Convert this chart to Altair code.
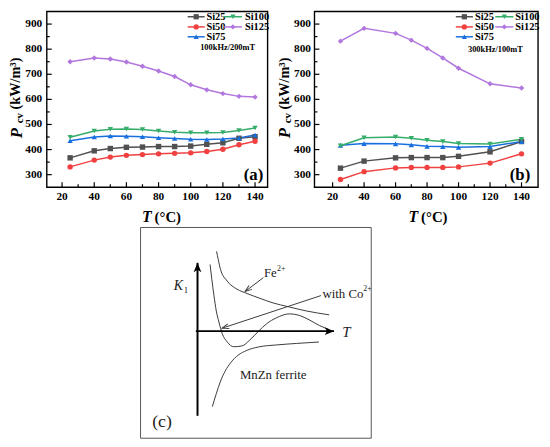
import math
import altair as alt
import numpy as np
import pandas as pd

FONT = "Liberation Serif"
M = 8  # page margin: page coordinate -> chart coordinate

# ---------------- data: panels (a) and (b) ----------------
series = ["Si25", "Si50", "Si75", "Si100", "Si125"]
colors = ["#515151", "#F14040", "#1A6FDF", "#37AD6B", "#B177DE"]
shapes = ["square", "circle", "triangle-up", "triangle-down", "diamond"]

temp_a = [25, 40, 50, 60, 70, 80, 90, 100, 110, 120, 130, 140]
a_si25 = [367, 395, 404, 409, 410, 412, 412, 414, 421, 427, 445, 451]
a_si50 = [331, 358, 370, 377, 380, 383, 385, 387, 392, 401, 419, 433]
a_si75 = [435, 450, 454, 453, 451, 447, 444, 441, 440, 442, 446, 458]
a_si100 = [449, 474, 481, 482, 480, 474, 469, 467, 467, 468, 476, 486]
a_si125 = [750, 765, 761, 749, 732, 713, 691, 658, 638, 623, 612, 609]

temp_b = [25, 40, 60, 70, 80, 90, 100, 120, 140]
b_si25 = [326, 354, 367, 368, 368, 368, 373, 391, 432]
b_si50 = [281, 312, 327, 329, 329, 329, 331, 346, 383]
b_si75 = [417, 424, 423, 419, 413, 412, 409, 412, 432]
b_si100 = [415, 447, 450, 445, 437, 432, 424, 422, 441]
b_si125 = [832, 883, 863, 836, 803, 765, 724, 662, 645]

x_major = [20, 40, 60, 80, 100, 120, 140]
x_minor = [30, 50, 70, 90, 110, 130]
y_major = [300, 400, 500, 600, 700, 800, 900]
y_minor = [350, 450, 550, 650, 750, 850]

# ---------------- data: schematic (c) ----------------
fe_x = [1.93, 2.1, 2.33, 3.0, 4.0, 5.0, 6.33, 7.67, 9.17, 11.0, 13.33]
fe_y = [8.08, 7.25, 6.25, 5.08, 4.25, 3.82, 3.32, 2.85, 2.48, 2.05, 1.65]
co_x = [1.27, 1.45, 1.67, 1.9, 2.17, 2.5, 3.0, 3.67, 4.5, 5.3, 6.17, 7.0, 8.0, 9.33, 10.3, 11.3, 12.33, 13.33]
co_y = [6.75, 5.25, 3.58, 2.05, 0.92, -0.25, -1.08, -1.58, -1.5, -0.9, -0.02, 0.75, 1.35, 1.75, 1.6, 1.15, 0.58, 0.15]
mn_x = [1.5, 1.9, 2.3, 2.8, 3.4, 4.1, 5.0, 6.2, 8.0, 10.0, 12.3]
mn_y = [-7.65, -6.35, -5.15, -4.05, -3.15, -2.45, -1.95, -1.6, -1.4, -1.25, -1.1]

arrow_from_x = [6.67, 12.5]
arrow_from_y = [5.42, 3.6]
arrow_to_x = [4.83, 2.5]
arrow_to_y = [4.02, 0.3]

axis_from_x = [0.0, -0.17]
axis_from_y = [-8.58, 0.0]
axis_to_x = [0.0, 13.83]
axis_to_y = [6.92, 0.0]

# ---------------- helpers ----------------
def S(dom, rng):
    return alt.Scale(domain=dom, range=rng, nice=False, zero=False)

one = pd.DataFrame({"k": [0]})


def label(text, x, y, size, weight="normal", style="normal", align="center",
          angle=0, color="black", baseline="middle"):
    return alt.Chart(one).mark_text(
        text=text, font=FONT, fontSize=size, fontWeight=weight, fontStyle=style,
        align=align, baseline=baseline, angle=angle, color=color
    ).encode(x=alt.value(x - M), y=alt.value(y - M))


color_enc = alt.Color("series:N", scale=alt.Scale(domain=series, range=colors), legend=None)
shape_enc = alt.Shape("series:N", scale=alt.Scale(domain=series, range=shapes), legend=None)

Y_AB = S([250, 950], [178.7, 0.7])


def panel(temps, vals, xdom, xrng, leg_cols, leg_lab, cond, cond_xy, tag, tag_x,
          ylab_right, ytitle_x, xtitle_x):
    xs = S(xdom, xrng)
    layers = []
    rows = []
    for s, v in zip(series, vals):
        for t, p in zip(temps, v):
            rows.append({"series": s, "T": t, "P": p})
    df = pd.DataFrame(rows)
    base = alt.Chart(df)
    enc = dict(x=alt.X("T:Q", scale=xs, axis=None), y=alt.Y("P:Q", scale=Y_AB, axis=None))
    layers.append(base.mark_line(strokeWidth=1.5).encode(color=color_enc, detail="series:N", **enc))
    layers.append(base.mark_point(filled=True, size=30, opacity=1).encode(color=color_enc, shape=shape_enc, **enc))

    # frame
    box = pd.DataFrame({"x0": [xdom[0]], "x1": [xdom[1]], "y0": [250], "y1": [950]})
    layers.append(alt.Chart(box).mark_rect(fillOpacity=0, stroke="black", strokeWidth=1.4).encode(
        x=alt.X("x0:Q", scale=xs, axis=None), x2="x1:Q",
        y=alt.Y("y0:Q", scale=Y_AB, axis=None), y2="y1:Q"))

    x0, ybot = xrng[0], 178.7
    # inward ticks
    for vals_t, ln in ((x_major, 5), (x_minor, 3)):
        layers.append(alt.Chart(pd.DataFrame({"v": vals_t})).mark_rule(color="black", strokeWidth=1.2).encode(
            x=alt.X("v:Q", scale=xs, axis=None), y=alt.value(ybot), y2=alt.value(ybot - ln)))
    for vals_t, ln in ((y_major, 5), (y_minor, 3)):
        layers.append(alt.Chart(pd.DataFrame({"v": vals_t})).mark_rule(color="black", strokeWidth=1.2).encode(
            y=alt.Y("v:Q", scale=Y_AB, axis=None), x=alt.value(x0), x2=alt.value(x0 + ln)))
    # tick labels
    layers.append(alt.Chart(pd.DataFrame({"v": x_major, "lab": [str(v) for v in x_major]})).mark_text(
        font=FONT, fontSize=11.5, fontWeight="bold", baseline="middle").encode(
        x=alt.X("v:Q", scale=xs, axis=None), y=alt.value(196.7 - M), text="lab:N"))
    layers.append(alt.Chart(pd.DataFrame({"v": y_major, "lab": [str(v) for v in y_major]})).mark_text(
        font=FONT, fontSize=11.5, fontWeight="bold", baseline="middle", align="right").encode(
        y=alt.Y("v:Q", scale=Y_AB, axis=None), x=alt.value(ylab_right - M), text="lab:N"))

    # axis titles
    layers.append(label("P", ytitle_x + 2.5, 137, 17, "bold", "italic", "left", 270))
    layers.append(label("cv", ytitle_x + 5, 122, 11, "bold", "normal", "left", 270))
    layers.append(label("(kW/m³)", ytitle_x + 1.5, 108, 14.5, "bold", "normal", "left", 270))
    layers.append(label("T", xtitle_x - 1.5, 217.3, 16, "bold", "italic", "right"))
    layers.append(label("(°C)", xtitle_x + 1.5, 217.3, 15, "bold", "normal", "left"))

    # legend
    rows_y = [14, 24.3, 34.3]
    place = {"Si25": (0, 0), "Si50": (0, 1), "Si75": (0, 2), "Si100": (1, 0), "Si125": (1, 1)}
    for s, c, sh in zip(series, colors, shapes):
        ci, ri = place[s]
        lx0, lx1 = leg_cols[ci]
        yy = rows_y[ri] - M
        layers.append(alt.Chart(one).mark_rule(color=c, strokeWidth=1.5).encode(
            x=alt.value(lx0 - M), x2=alt.value(lx1 - M), y=alt.value(yy)))
        layers.append(alt.Chart(one).mark_point(shape=sh, filled=True, size=28, color=c, opacity=1).encode(
            x=alt.value((lx0 + lx1) / 2 - M), y=alt.value(yy)))
        layers.append(label(s, leg_lab[ci], rows_y[ri], 10.5, "bold", "normal", "left"))
    layers.append(label(cond, cond_xy[0], cond_xy[1], 8.5, "bold", "normal", "left"))
    layers.append(label(tag, tag_x, 174, 17, "bold", "normal", "center"))
    return layers


layers = []
layers += panel(temp_a, [a_si25, a_si50, a_si75, a_si100, a_si125],
                [10.5, 147.8], [47.3 - M, 271 - M],
                [(190, 207.3), (226.7, 245)], [209, 248],
                "100kHz/200mT", (202.7, 45), "(a)", 256.7,
                42.7, 15, 155)
layers += panel(temp_b, [b_si25, b_si50, b_si75, b_si100, b_si125],
                [8.5, 150.5], [318.5 - M, 545 - M],
                [(461.7, 479), (501.7, 520)], [481, 522],
                "300kHz/100mT", (474, 46.7), "(b)", 526.7,
                315, 286.7, 425)

# ---------------- panel (c) ----------------
XC = S([0, 10], [200 - M, 300 - M])
YC = S([0, 10], [332.5 - M, 232.5 - M])
cx = lambda f: alt.X(f, type="quantitative", scale=XC, axis=None)
cy = lambda f: alt.Y(f, type="quantitative", scale=YC, axis=None)

frame_c = pd.DataFrame({"x0": [-5.77], "x1": [17.6], "y0": [-10.85], "y1": [10.5]})
layers.append(alt.Chart(frame_c).mark_rect(fillOpacity=0, stroke="#555555", strokeWidth=1).encode(
    x=cx("x0"), x2="x1", y=cy("y0"), y2="y1"))

curves = []
for name, xs_, ys_ in (("fe", fe_x, fe_y), ("co", co_x, co_y), ("mn", mn_x, mn_y)):
    for i, (a, b) in enumerate(zip(xs_, ys_)):
        curves.append({"curve": name, "i": i, "x": a, "y": b})
layers.append(alt.Chart(pd.DataFrame(curves)).mark_line(
    color="#3a3a3a", strokeWidth=1, interpolate="monotone").encode(
    x=cx("x"), y=cy("y"), detail="curve:N", order="i:Q"))

ax_df = pd.DataFrame({"x": axis_from_x, "y": axis_from_y, "x2": axis_to_x, "y2": axis_to_y})
layers.append(alt.Chart(ax_df).mark_rule(color="black", strokeWidth=2).encode(
    x=cx("x"), y=cy("y"), x2="x2", y2="y2"))

ar_df = pd.DataFrame({"x": arrow_from_x, "y": arrow_from_y, "x2": arrow_to_x, "y2": arrow_to_y})
layers.append(alt.Chart(ar_df).mark_rule(color="#3a3a3a", strokeWidth=1).encode(
    x=cx("x"), y=cy("y"), x2="x2", y2="y2"))


def heads(fx, fy, tx, ty, size):
    r = math.sqrt(size) / 2 / 10.0
    rows = []
    for a, b, c, d in zip(fx, fy, tx, ty):
        dx, dy = c - a, d - b
        n = math.hypot(dx, dy)
        ang = math.degrees(math.atan2(dx, dy)) % 360
        rows.append({"x": c - r * dx / n, "y": d - r * dy / n, "angle": ang})
    return pd.DataFrame(rows)


layers.append(alt.Chart(heads(axis_from_x, axis_from_y, axis_to_x, axis_to_y, 110)).mark_point(
    shape="M0,-1L0.75,0.8L0,0.35L-0.75,0.8Z", filled=True, color="black", size=110, opacity=1).encode(
    x=cx("x"), y=cy("y"), angle=alt.Angle("angle:Q", scale=None)))
layers.append(alt.Chart(heads(arrow_from_x, arrow_from_y, arrow_to_x, arrow_to_y, 50)).mark_point(
    shape="M-0.7,0.9L0,-1L0.7,0.9", filled=False, color="#3a3a3a", strokeWidth=1, size=50, opacity=1).encode(
    x=cx("x"), y=cy("y"), angle=alt.Angle("angle:Q", scale=None)))


def clabel(text, x, y, size, style="normal", align="left"):
    return alt.Chart(pd.DataFrame({"x": [x], "y": [y]})).mark_text(
        text=text, font=FONT, fontSize=size, fontStyle=style, align=align, baseline="middle",
        color="#222222").encode(x=cx("x"), y=cy("y"))


layers.append(clabel("Fe", 6.73, 5.92, 13))
layers.append(clabel("2+", 8.05, 6.3, 8))
layers.append(clabel("with Co", 12.65, 3.8, 13))
layers.append(clabel("2+", 16.8, 4.25, 8))
layers.append(clabel("K", -2.4, 4.55, 14, "italic"))
layers.append(clabel("1", -1.4, 4.15, 9))
layers.append(clabel("T", 15.07, -0.05, 15, "italic", "center"))
layers.append(clabel("MnZn ferrite", 7.67, -4.42, 13, "normal", "center"))
layers.append(clabel("(c)", -3.6, -9.2, 18, "normal", "center"))

chart = alt.layer(*layers).resolve_scale(
    x="independent", y="independent"
).properties(
    width=541, height=437, autosize=alt.AutoSizeParams(type="none"), padding=0
).configure_view(stroke=None)

chart.save("out.html", embed_options={"renderer": "svg", "actions": False})
